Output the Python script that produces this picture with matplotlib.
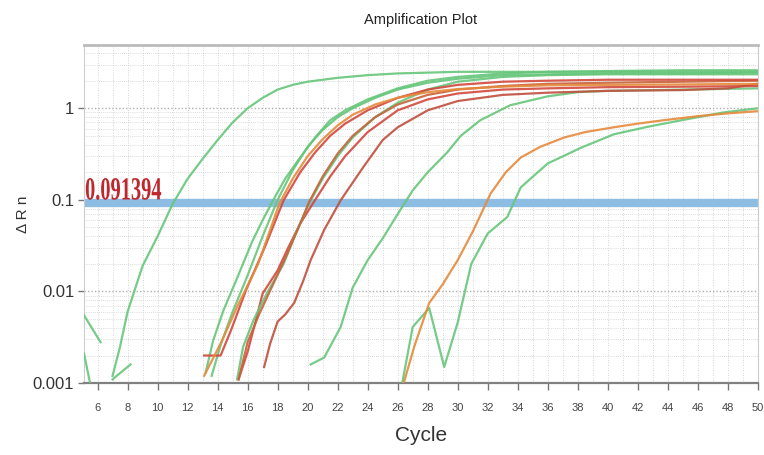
import matplotlib
matplotlib.use("Agg")
from matplotlib import pyplot as plt
from matplotlib.ticker import FixedLocator, NullFormatter
from matplotlib.textpath import TextPath
from matplotlib.patches import PathPatch
from matplotlib.font_manager import FontProperties
from matplotlib.transforms import Affine2D

plt.rcParams['font.family'] = ['Liberation Sans', 'DejaVu Sans']

threshold = 0.091394
threshold_label = '0.091394'

# colours of the wells
green = '#66c67a'
red = '#d2483c'
orange = '#e58a3c'
brown = '#c0503f'

# noise at the start of the run
cyc_n1 = [5.1, 6.2]
drn_n1 = [0.0055, 0.0028]
cyc_n2 = [5.1, 5.5]
drn_n2 = [0.0021, 0.001]
cyc_n3 = [7.0, 8.2]
drn_n3 = [0.0011, 0.0016]

# earliest well
cyc_g1 = [7.0, 7.5, 8, 9, 10, 11, 12, 13, 14, 15, 16, 17, 18, 19, 20, 22, 24, 26, 28, 30, 35, 40, 45, 50]
drn_g1 = [0.0012, 0.0025, 0.006, 0.019, 0.04, 0.09, 0.17, 0.28, 0.45, 0.7, 1.0, 1.3, 1.6, 1.8, 1.95,
          2.15, 2.3, 2.4, 2.45, 2.5, 2.5, 2.5, 2.5, 2.5]

cyc_g2 = [13.2, 13.7, 14.4, 15.3, 16.3, 17.0, 17.7, 18.5, 19.5, 20.5, 21.5, 22.5, 24, 26, 28, 30, 33, 36, 40, 45, 50]
drn_g2 = [0.0013, 0.0029, 0.0063, 0.014, 0.035, 0.06, 0.099, 0.17, 0.29, 0.48, 0.74, 0.95, 1.25, 1.65,
          2.0, 2.2, 2.4, 2.5, 2.55, 2.6, 2.6]

cyc_g3 = [13.6, 14.2, 15.0, 16.0, 17.0, 18.0, 19.0, 20.0, 21.0, 22.0, 23.0, 24.5, 26, 28, 30, 33, 36, 40, 45, 50]
drn_g3 = [0.0012, 0.0026, 0.006, 0.015, 0.04, 0.1, 0.21, 0.38, 0.58, 0.8, 1.0, 1.3, 1.6, 1.9, 2.1,
          2.3, 2.35, 2.4, 2.4, 2.45]

cyc_o1 = [13.1, 14.2, 15.3, 16.7, 17.5, 18.1, 19.0, 20.0, 21.0, 22.0, 23.0, 24.5, 26, 28, 30, 33, 36, 40, 45, 50]
drn_o1 = [0.0012, 0.0027, 0.0068, 0.02, 0.047, 0.09, 0.17, 0.3, 0.46, 0.65, 0.85, 1.1, 1.3, 1.5, 1.62,
          1.72, 1.78, 1.8, 1.82, 1.85]

cyc_r1 = [13.1, 14.2, 14.9, 15.9, 17.2, 18.4, 19.5, 20.5, 21.5, 22.5, 24, 26, 28, 30, 33, 36, 40, 45, 50]
drn_r1 = [0.002, 0.002, 0.0038, 0.0104, 0.032, 0.099, 0.2, 0.33, 0.5, 0.68, 0.95, 1.3, 1.6, 1.8, 1.95,
          2.0, 2.05, 2.05, 2.05]

cyc_g4 = [15.3, 15.7, 16.4, 17.3, 18.4, 19.3, 20.1, 21.0, 22.0, 23.0, 24.5, 26, 28, 30, 33, 36, 40, 45, 50]
drn_g4 = [0.0011, 0.0025, 0.0049, 0.0097, 0.02, 0.047, 0.092, 0.17, 0.3, 0.48, 0.8, 1.15, 1.6, 1.95,
          2.2, 2.3, 2.35, 2.35, 2.35]

cyc_r2 = [15.4, 16.0, 16.8, 17.7, 18.6, 19.4, 20.1, 21.0, 22.0, 23.0, 24.5, 26, 28, 30, 33, 36, 40, 45, 50]
drn_r2 = [0.0011, 0.0028, 0.0058, 0.012, 0.025, 0.05, 0.095, 0.18, 0.32, 0.5, 0.8, 1.1, 1.4, 1.6, 1.75,
          1.85, 1.9, 1.95, 2.0]

cyc_r3 = [15.4, 16.0, 16.5, 17.0, 17.4, 18.0, 18.7, 19.5, 20.5, 21.5, 22.5, 24, 26, 28, 30, 33, 36, 40, 45, 50]
drn_r3 = [0.0011, 0.0022, 0.0045, 0.0095, 0.012, 0.017, 0.03, 0.055, 0.1, 0.18, 0.3, 0.55, 0.95, 1.25,
          1.45, 1.6, 1.65, 1.7, 1.72, 1.75]

cyc_r4 = [17.1, 17.5, 18.0, 18.5, 19.1, 19.7, 20.2, 21.1, 22.2, 23.7, 25, 26, 28, 30, 33, 36, 40, 45, 48, 50]
drn_r4 = [0.0015, 0.0027, 0.0047, 0.0056, 0.0075, 0.013, 0.022, 0.047, 0.099, 0.227, 0.45, 0.62, 0.95,
          1.2, 1.4, 1.48, 1.55, 1.58, 1.65, 1.85]

cyc_g5 = [20.2, 21.1, 22.2, 23.0, 24.0, 25.0, 26.0, 27.0, 28.0, 29.3, 30.2, 31.5, 33.5, 36, 38, 40, 45, 50]
drn_g5 = [0.0016, 0.0019, 0.0041, 0.011, 0.022, 0.038, 0.07, 0.127, 0.2, 0.33, 0.5, 0.74, 1.08, 1.35,
          1.5, 1.55, 1.6, 1.65]

# late wells
cyc_o2 = [26.4, 27.1, 28.1, 29.0, 30.0, 31.0, 32.2, 33.2, 34.2, 35.5, 37.1, 38.5, 40.4, 42, 43.7, 46, 48, 50]
drn_o2 = [0.001, 0.0025, 0.0075, 0.012, 0.022, 0.045, 0.118, 0.2, 0.29, 0.38, 0.48, 0.55, 0.62, 0.68,
          0.74, 0.82, 0.88, 0.93]

cyc_g6 = [26.3, 27.0, 28.1, 29.1, 30.0, 30.9, 32.0, 33.3, 34.2, 36.0, 38.2, 40.4, 42.7, 44.9, 47.7, 50]
drn_g6 = [0.001, 0.0041, 0.0066, 0.0015, 0.0046, 0.02, 0.043, 0.065, 0.137, 0.25, 0.37, 0.52, 0.63,
          0.74, 0.9, 1.0]

xticks = list(range(6, 51, 2))
yticks = [0.001, 0.01, 0.1, 1]
ytick_labels = ['0.001', '0.01', '0.1', '1']

fig = plt.figure(figsize=(7.64, 4.55), dpi=100)
ax = fig.add_axes([0.110, 0.158, 0.882, 0.743])

# dotted grid, one line per cycle and per log step
for c in range(6, 51):
    ax.axvline(c, color='#c8c8c8', lw=0.6, ls=(0, (1, 2)), zorder=0)
for dec in [0.001, 0.01, 0.1, 1]:
    for m in range(1, 10):
        v = dec * m
        if v > 5:
            continue
        ax.axhline(v, color='#b0b0b0' if m == 1 else '#d0d0d0',
                   lw=1.0 if m == 1 else 0.6, ls=(0, (1, 1.5)), zorder=0)

ax.axhline(threshold, color='#8dbde3', lw=6, zorder=1)

curves = [
    (cyc_n1, drn_n1, green), (cyc_n2, drn_n2, green), (cyc_n3, drn_n3, green),
    (cyc_g1, drn_g1, green),
    (cyc_g6, drn_g6, green), (cyc_o2, drn_o2, orange),
    (cyc_g5, drn_g5, green),
    (cyc_r4, drn_r4, brown), (cyc_r3, drn_r3, red),
    (cyc_g4, drn_g4, green), (cyc_r2, drn_r2, '#c9623a'),
    (cyc_g3, drn_g3, green), (cyc_g2, drn_g2, green),
    (cyc_r1, drn_r1, red), (cyc_o1, drn_o1, orange),
]
for cx, cy, col in curves:
    ax.plot(cx, cy, color=col, lw=1.6, alpha=0.9, zorder=3)

ax.set_yscale('log')
ax.set_xlim(5.1, 50)
ax.set_ylim(0.001, 4.9)
ax.set_xticks(xticks)
ax.set_xticklabels([str(t) for t in xticks], fontsize=8, color='#444444')
ax.set_yticks(yticks)
ax.set_yticklabels(ytick_labels, fontsize=12, color='#333333')
ax.yaxis.set_minor_locator(FixedLocator([]))
ax.yaxis.set_minor_formatter(NullFormatter())
ax.tick_params(axis='x', length=5, width=1, color='#777777', pad=9)
ax.tick_params(axis='y', length=4, width=1, color='#777777', pad=3)

for side in ['left', 'right']:
    ax.spines[side].set_color('#cccccc')
ax.spines['top'].set_color('#bbbbbb')
ax.spines['top'].set_linewidth(2)
ax.spines['bottom'].set_color('#808080')
ax.spines['bottom'].set_linewidth(1.6)

ax.set_title('Amplification Plot', fontsize=10.5, pad=15, color='#222222')
ax.set_xlabel('Cycle', fontsize=15, color='#333333', labelpad=10)
ax.set_ylabel('Δ R n', fontsize=11, color='#333333', labelpad=2)

# tall, narrow serif label above the threshold line (drawn in pixels)
x0, y0 = ax.transData.transform((5.1, threshold))
tp = TextPath((0, 0), threshold_label, size=34,
              prop=FontProperties(family='Liberation Serif', weight='bold'))
lab = PathPatch(tp, transform=Affine2D().scale(0.6, 0.95).translate(x0 + 1, y0 + 4),
                color='#c0262c', lw=0, zorder=5)
fig.add_artist(lab)

fig.savefig('out.png', dpi=100)
